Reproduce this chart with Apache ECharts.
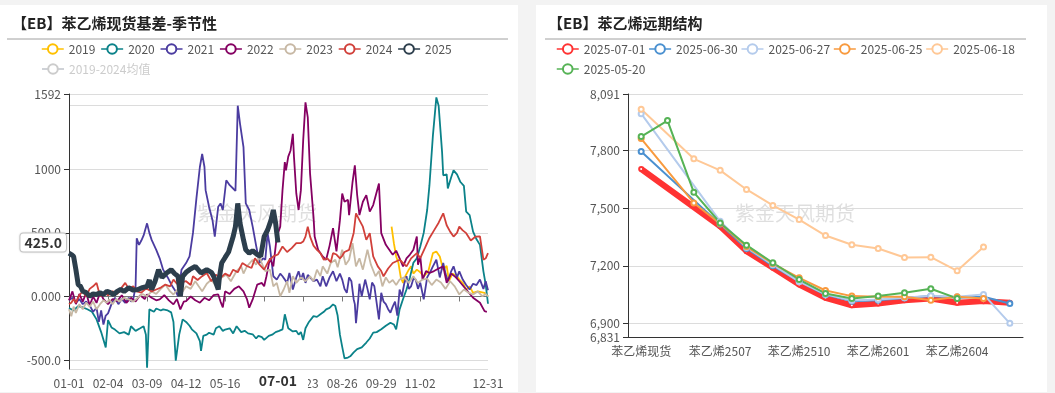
<!DOCTYPE html>
<html><head><meta charset="utf-8">
<script src="https://cdn.jsdelivr.net/npm/echarts@6/dist/echarts.min.js"></script>
<style>
html,body{margin:0;padding:0;background:#f3f3f3;width:1055px;height:393px;overflow:hidden}
#c1{position:absolute;left:0;top:5px;width:518px;height:387px;background:#fff}
#c2{position:absolute;left:536px;top:5px;width:511px;height:387px;background:#fff}
</style></head>
<body><div id="c1"></div><div id="c2"></div>
<script>
// ---------- Left chart data (x = day-of-year index in a leap year, y = basis) ----------
const seasonNames = ['2019','2020','2021','2022','2023','2024','2025'];
const avgName = '2019-2024均值';
const s2019 = [[281,549],[283,419],[285,315],[287,263],[289,150],[291,107],[293,160],[296,211],[298,237],[300,180],[303,211],[306,190],[309,159],[313,198],[317,341],[320,354],[323,315],[326,211],[329,240],[331,120],[334,180],[338,159],[340,133],[343,107],[346,55],[349,80],[352,29],[356,40],[362,29],[365,2]];
const s2020 = [[0,-90],[4,-110],[8,-75],[12,-85],[16,-100],[20,-120],[24,-180],[28,-280],[32,-400],[34,-185],[37,-243],[40,-260],[44,-290],[48,-280],[52,-300],[54,-234],[58,-270],[62,-250],[65,-234],[67,-300],[68,-560],[70,-101],[74,-120],[76,-94],[80,-110],[82,-101],[86,-110],[89,-125],[91,-200],[93,-505],[96,-300],[99,-180],[102,-200],[105,-230],[107,-258],[111,-290],[114,-350],[115,-427],[117,-310],[120,-300],[122,-285],[126,-300],[128,-250],[131,-234],[134,-270],[136,-260],[140,-250],[143,-290],[146,-234],[150,-280],[153,-270],[156,-290],[160,-297],[163,-330],[165,-310],[168,-320],[170,-341],[174,-310],[177,-300],[180,-280],[183,-270],[186,-258],[188,-140],[191,-250],[195,-275],[198,-270],[200,-300],[202,-280],[204,-341],[206,-250],[209,-200],[213,-154],[216,-160],[219,-140],[222,-120],[224,-101],[227,-90],[230,-62],[232,-75],[234,-150],[236,-300],[238,-396],[240,-487],[243,-480],[245,-470],[248,-440],[251,-414],[255,-400],[259,-362],[262,-330],[265,-284],[268,-280],[272,-258],[276,-230],[280,-206],[283,-220],[285,-258],[288,-101],[291,-20],[294,55],[297,150],[300,265],[303,300],[306,393],[309,500],[312,680],[314,875],[317,1265],[320,1565],[322,1500],[325,1135],[326,953],[329,960],[330,850],[333,940],[335,992],[338,960],[341,900],[344,870],[346,667],[349,640],[352,510],[355,450],[358,406],[361,198],[363,94],[365,-57]];
const s2021 = [[0,-30],[3,-10],[6,-50],[9,-20],[12,-60],[15,-40],[18,-70],[21,-120],[24,-90],[26,-200],[28,-110],[30,-220],[32,-150],[34,-133],[37,-60],[40,-10],[43,-60],[46,-20],[49,-50],[52,-10],[54,-40],[56,-20],[58,80],[59,458],[61,406],[63,440],[65,480],[68,575],[70,500],[72,445],[76,367],[79,300],[82,211],[86,150],[90,80],[93,40],[95,2],[98,211],[102,263],[105,315],[108,500],[111,771],[114,1018],[116,1122],[118,1018],[119,836],[122,706],[125,600],[127,471],[130,706],[132,732],[134,680],[137,914],[140,875],[143,849],[145,830],[147,1500],[149,1357],[152,1174],[154,732],[157,680],[160,549],[163,400],[166,263],[169,300],[171,289],[173,498],[175,393],[178,159],[181,133],[184,180],[186,159],[190,107],[192,185],[195,55],[198,150],[200,198],[202,133],[204,185],[206,107],[208,170],[210,150],[213,120],[216,133],[219,80],[221,159],[224,80],[227,150],[230,198],[233,120],[236,180],[238,133],[240,60],[242,29],[244,150],[246,120],[248,-23],[249,-60],[250,-210],[252,-20],[253,100],[255,2],[258,133],[260,60],[262,-23],[264,110],[266,80],[268,-50],[270,-180],[272,29],[274,-40],[276,-60],[278,-100],[280,-127],[282,-80],[284,-40],[286,-150],[288,55],[290,2],[292,100],[294,159],[296,60],[298,80],[300,140],[302,133],[304,60],[306,109],[309,-23],[312,150],[315,200],[317,237],[320,289],[323,150],[326,263],[328,180],[330,120],[333,200],[335,237],[338,150],[340,198],[343,133],[346,90],[349,55],[352,100],[355,90],[358,133],[361,60],[363,120],[365,49]];
const s2022 = [[0,-30],[3,40],[6,-60],[9,20],[12,-40],[15,30],[18,-70],[21,0],[24,-50],[27,30],[30,-20],[34,-60],[38,-20],[42,-36],[46,10],[50,-50],[54,-10],[58,-40],[62,10],[66,-20],[68,16],[72,-10],[76,-30],[79,-23],[83,10],[87,-30],[91,-62],[94,-20],[97,-101],[100,-40],[102,-36],[106,0],[110,-30],[114,-49],[118,-10],[122,-30],[126,10],[130,16],[132,-40],[134,-86],[136,41],[140,20],[144,60],[148,80],[152,40],[155,-20],[157,-88],[160,-23],[164,94],[168,107],[170,80],[172,159],[175,300],[178,237],[181,471],[184,549],[186,836],[188,1057],[189,992],[191,1100],[193,1148],[195,1279],[196,1096],[198,810],[200,680],[202,836],[204,1227],[206,1526],[208,1409],[210,966],[213,627],[214,471],[217,367],[221,315],[224,289],[227,400],[230,537],[233,354],[236,600],[238,810],[240,745],[243,760],[244,640],[247,900],[249,1031],[251,800],[253,640],[256,745],[259,797],[262,667],[265,719],[270,888],[272,498],[276,406],[282,328],[285,360],[288,300],[291,237],[294,300],[297,330],[300,367],[303,471],[304,250],[306,315],[308,133],[311,200],[314,185],[318,200],[322,220],[326,237],[329,107],[333,180],[337,150],[340,120],[346,55],[352,-10],[358,-49],[362,-115],[364,-120]];
const s2023 = [[0,-100],[2,-155],[4,-80],[6,-130],[9,-60],[12,-100],[15,-47],[18,-80],[21,-40],[24,-101],[27,-60],[30,-30],[33,-50],[35,-23],[38,-60],[41,-20],[44,-40],[48,-10],[52,-23],[56,-40],[60,-10],[64,20],[68,2],[72,40],[76,20],[80,60],[84,94],[88,40],[91,16],[95,60],[99,40],[102,80],[106,60],[110,120],[113,80],[116,41],[120,100],[124,133],[128,80],[133,150],[137,172],[141,120],[146,200],[150,237],[152,180],[155,237],[160,289],[163,250],[166,315],[168,260],[171,200],[175,211],[178,80],[181,107],[184,2],[187,55],[190,120],[192,29],[195,160],[198,107],[202,150],[206,120],[210,159],[213,120],[216,211],[219,160],[221,237],[225,180],[228,263],[232,289],[234,230],[238,367],[241,250],[244,289],[247,419],[250,237],[253,300],[256,211],[260,367],[263,250],[267,159],[270,200],[273,80],[276,150],[279,107],[282,130],[285,90],[288,133],[292,150],[296,107],[300,160],[304,107],[308,133],[312,140],[316,90],[320,133],[324,110],[328,60],[332,120],[336,80],[340,16],[344,55],[348,30],[352,16],[356,40],[360,2],[363,20],[365,0]];
const s2024 = [[0,-60],[2,-49],[4,-20],[6,-49],[9,10],[12,41],[15,0],[18,60],[21,80],[24,107],[26,40],[28,2],[31,30],[34,10],[38,41],[42,20],[45,60],[49,107],[52,60],[56,80],[59,41],[63,30],[66,55],[68,60],[72,40],[76,55],[80,70],[84,94],[88,80],[91,133],[94,100],[98,110],[102,120],[106,90],[108,159],[112,130],[116,160],[120,185],[124,120],[128,170],[132,146],[136,180],[140,160],[143,211],[147,190],[151,263],[155,240],[159,224],[162,300],[166,250],[170,211],[174,280],[178,315],[182,330],[186,393],[190,350],[194,380],[198,420],[202,420],[204,432],[206,471],[208,549],[210,471],[213,400],[216,367],[219,341],[222,289],[225,300],[228,270],[230,341],[233,330],[236,300],[238,320],[240,350],[244,367],[248,500],[250,654],[253,600],[256,549],[259,445],[262,498],[265,315],[269,237],[272,200],[274,159],[278,220],[282,263],[288,289],[294,237],[298,300],[303,341],[306,302],[310,380],[314,460],[318,520],[322,580],[326,654],[329,560],[332,510],[335,471],[338,500],[340,549],[343,520],[346,498],[350,440],[354,470],[358,472],[361,289],[363,300],[365,341]];
const s2025 = [[0,341],[2,330],[4,315],[6,211],[8,94],[10,80],[12,41],[15,30],[18,2],[21,20],[24,16],[27,30],[30,16],[33,41],[36,30],[39,16],[42,40],[45,55],[48,40],[52,68],[56,50],[60,55],[64,70],[68,80],[70,130],[72,55],[75,120],[78,211],[81,150],[85,185],[89,211],[92,180],[95,159],[97,2],[99,159],[102,190],[105,211],[110,237],[115,185],[120,211],[124,190],[126,159],[130,55],[131,150],[133,263],[136,307],[139,350],[143,471],[145,550],[147,732],[149,576],[152,445],[154,367],[157,341],[160,360],[164,330],[167,315],[170,471],[173,523],[176,600],[178,680],[180,576],[181,498],[182,425]];
const sAvg = [];
const seasonColors = ['#ffc000','#0b8289','#4b3ca0','#850062','#c7b8a4','#d1403a','#2c3e4c'];
const pointerDay = '07-01';
const pointerValue = 425;
const dayLabelStep = 34;

// ---------- Right chart data ----------
const curveCats = ['苯乙烯现货','苯乙烯2505','苯乙烯2506','苯乙烯2507','苯乙烯2508','苯乙烯2509','苯乙烯2510','苯乙烯2511','苯乙烯2512','苯乙烯2601','苯乙烯2602','苯乙烯2603','苯乙烯2604','苯乙烯2605','苯乙烯2606'];
const curveNames = ['2025-07-01','2025-06-30','2025-06-27','2025-06-25','2025-06-18','2025-05-20'];
const d0701 = [7702,null,null,7405,7276,7190,7103,7034,6995,7005,7022,7031,7009,7017,7009];
const d0630 = [7793,null,null,7415,7290,7200,7120,7050,7017,7022,7033,7043,7035,7040,7005];
const d0627 = [7989,null,null,7431,7295,7205,7118,7052,7020,7025,7035,7045,7040,7052,6902];
const d0625 = [7860,null,7526,7418,7300,7212,7138,7072,7043,7040,7040,7022,7040,7031,null];
const d0618 = [8012,null,7755,7695,7596,7513,7440,7357,7309,7290,7243,7245,7174,7298,null];
const d0520 = [7870,7953,7581,7422,7307,7216,7129,7057,7031,7043,7060,7081,7031,null,null];
const curveColors = ['#ff3333','#4a90d0','#b4cbec','#f89a3e','#ffc896','#56b356'];
const curveMin = 6831, curveMax = 8091;

// ---------- build ----------
const FONT = "'Noto Sans CJK SC','Noto Sans',sans-serif";
const days = [];
for (let m = 1; m <= 12; m++) {
  const n = new Date(2024, m, 0).getDate();
  for (let d = 1; d <= n; d++) days.push(String(m).padStart(2,'0') + '-' + String(d).padStart(2,'0'));
}
const lastDay = days.length - 1;
const fmt4 = v => Number(v).toPrecision(4);

function header(text, lineX1, lineX2, wmX) {
  return [
    {type:'text', left: 12, top: 11, style:{text: text, fontSize: 15, fontWeight:'bold', fill:'#222', fontFamily: FONT}},
    {type:'line', shape:{x1: lineX1, y1: 34, x2: lineX2, y2: 34}, style:{stroke:'#a0a0a0', lineWidth:1}},
    {type:'text', x: wmX, y: 208, z: 0, style:{text:'紫金天风期货', fontSize: 20, fill:'rgba(0,0,0,0.13)', align:'center', verticalAlign:'middle', fontFamily: FONT}}
  ];
}

const seasonData = [s2019, s2020, s2021, s2022, s2023, s2024, s2025];
const leftSeries = seasonNames.map((n, i) => ({
  name: n, type: 'line', xAxisIndex: 0, yAxisIndex: 0,
  data: seasonData[i], symbol: 'emptyCircle', symbolSize: 5,
  showAllSymbol: 'auto',
  lineStyle: {width: n === '2025' ? 5 : 1.8, color: seasonColors[i]},
  itemStyle: {color: seasonColors[i]},
  z: n === '2025' ? 4 : 3,
  animation: false
}));
leftSeries.push({name: avgName, type:'line', data: sAvg, symbol:'emptyCircle', symbolSize:5, lineStyle:{width:1.8, color:'#aaa'}, itemStyle:{color:'#aaa'}, animation:false});

function legendCommon(gap) {
  return {itemWidth: 22, itemHeight: 12, itemGap: gap, width: 500, padding: 0,
    lineStyle:{width: 1.5}, itemStyle:{borderWidth: 1.5},
    textStyle:{color:'#555', fontSize: 12, fontFamily: FONT}, inactiveColor:'#ccc'};
}

const c1 = echarts.init(document.getElementById('c1'));
c1.setOption({
  animation: false,
  textStyle: {fontFamily: FONT},
  graphic: header('【EB】苯乙烯现货基差-季节性', 7, 508, 257),
  legend: [
    Object.assign({data: seasonNames, left: 41, top: 38}, legendCommon(5)),
    Object.assign({data: [avgName], left: 41, top: 58, selected: {[avgName]: false}}, legendCommon(5))
  ],
  grid: {left: 69, top: 89, width: 419, height: 275},
  xAxis: [
    {type:'category', data: days, boundaryGap: false,
     axisLine:{onZero: true, lineStyle:{color:'#777'}}, axisTick:{show:true, interval: dayLabelStep - 1, lineStyle:{color:'#777'}},
     axisLabel:{show:false, interval: dayLabelStep - 1, fontSize:12}, splitLine:{show:false}},
    {type:'category', data: days, boundaryGap: false, position:'bottom',
     axisLine:{show:false, onZero:false}, axisTick:{show:false},
     axisLabel:{color:'#555', fontSize:12, fontFamily: FONT,
       interval: i => i === lastDay || (i % dayLabelStep === 0 && lastDay - i > dayLabelStep)},
     splitLine:{show:false},
     axisPointer:{show:true, value: days.indexOf(pointerDay), status:'show', triggerTooltip:false,
       lineStyle:{opacity:0},
       label:{show:true, backgroundColor:'#fff', color:'#333', fontWeight:'bold', fontSize:14, padding:[2,11], fontFamily: FONT, shadowBlur:0}}}
  ],
  yAxis: {type:'value', min: -570, max: 1592,
    axisLine:{show:true, lineStyle:{color:'#333'}}, axisTick:{show:true, lineStyle:{color:'#333'}},
    axisLabel:{color:'#555', fontSize:12, formatter: fmt4, showMinLabel:false, showMaxLabel:true, fontFamily: FONT},
    splitLine:{lineStyle:{color:'#dcdcdc'}, showMinLine:true, showMaxLine:true},
    axisPointer:{show:true, value: pointerValue, status:'show', triggerTooltip:false,
      lineStyle:{opacity:0},
      label:{show:true, formatter: p => fmt4(p.value), backgroundColor:'#fff', borderColor:'#ccc', borderWidth:1, color:'#333', fontWeight:'bold', fontSize:14, padding:[2,4], fontFamily: FONT, shadowBlur:2, shadowColor:'rgba(0,0,0,0.15)'}}},
  series: leftSeries
});

const curveData = [d0701, d0630, d0627, d0625, d0618, d0520];
const c2 = echarts.init(document.getElementById('c2'));
c2.setOption({
  animation: false,
  textStyle: {fontFamily: FONT},
  graphic: header('【EB】苯乙烯远期结构', 9, 490, 259),
  legend: [
    Object.assign({data: curveNames.slice(0,5), left: 20, top: 38}, legendCommon(3)),
    Object.assign({data: curveNames.slice(5), left: 20, top: 58}, legendCommon(3))
  ],
  grid: {left: 92, top: 89, width: 395, height: 243},
  xAxis: {type:'category', data: curveCats, boundaryGap: true,
    axisLine:{lineStyle:{color:'#333'}}, axisTick:{alignWithLabel:true, interval:2, lineStyle:{color:'#333'}},
    axisLabel:{interval:2, color:'#555', fontSize:12, fontFamily: FONT}},
  yAxis: {type:'value', min: curveMin, max: curveMax,
    axisLine:{show:true, lineStyle:{color:'#333'}}, axisTick:{show:true, lineStyle:{color:'#333'}},
    axisLabel:{color:'#555', fontSize:12, fontFamily: FONT, showMinLabel:true, showMaxLabel:true},
    splitLine:{lineStyle:{color:'#dcdcdc'}}},
  series: curveNames.map((n, i) => ({
    name: n, type:'line', data: curveData[i], connectNulls: true,
    symbol:'emptyCircle', symbolSize: i === 0 ? 4 : 5, showAllSymbol: true,
    lineStyle:{width: i === 0 ? 6 : 2, color: curveColors[i]},
    itemStyle:{color: curveColors[i]},
    animation:false
  }))
});
</script>
</body></html>
